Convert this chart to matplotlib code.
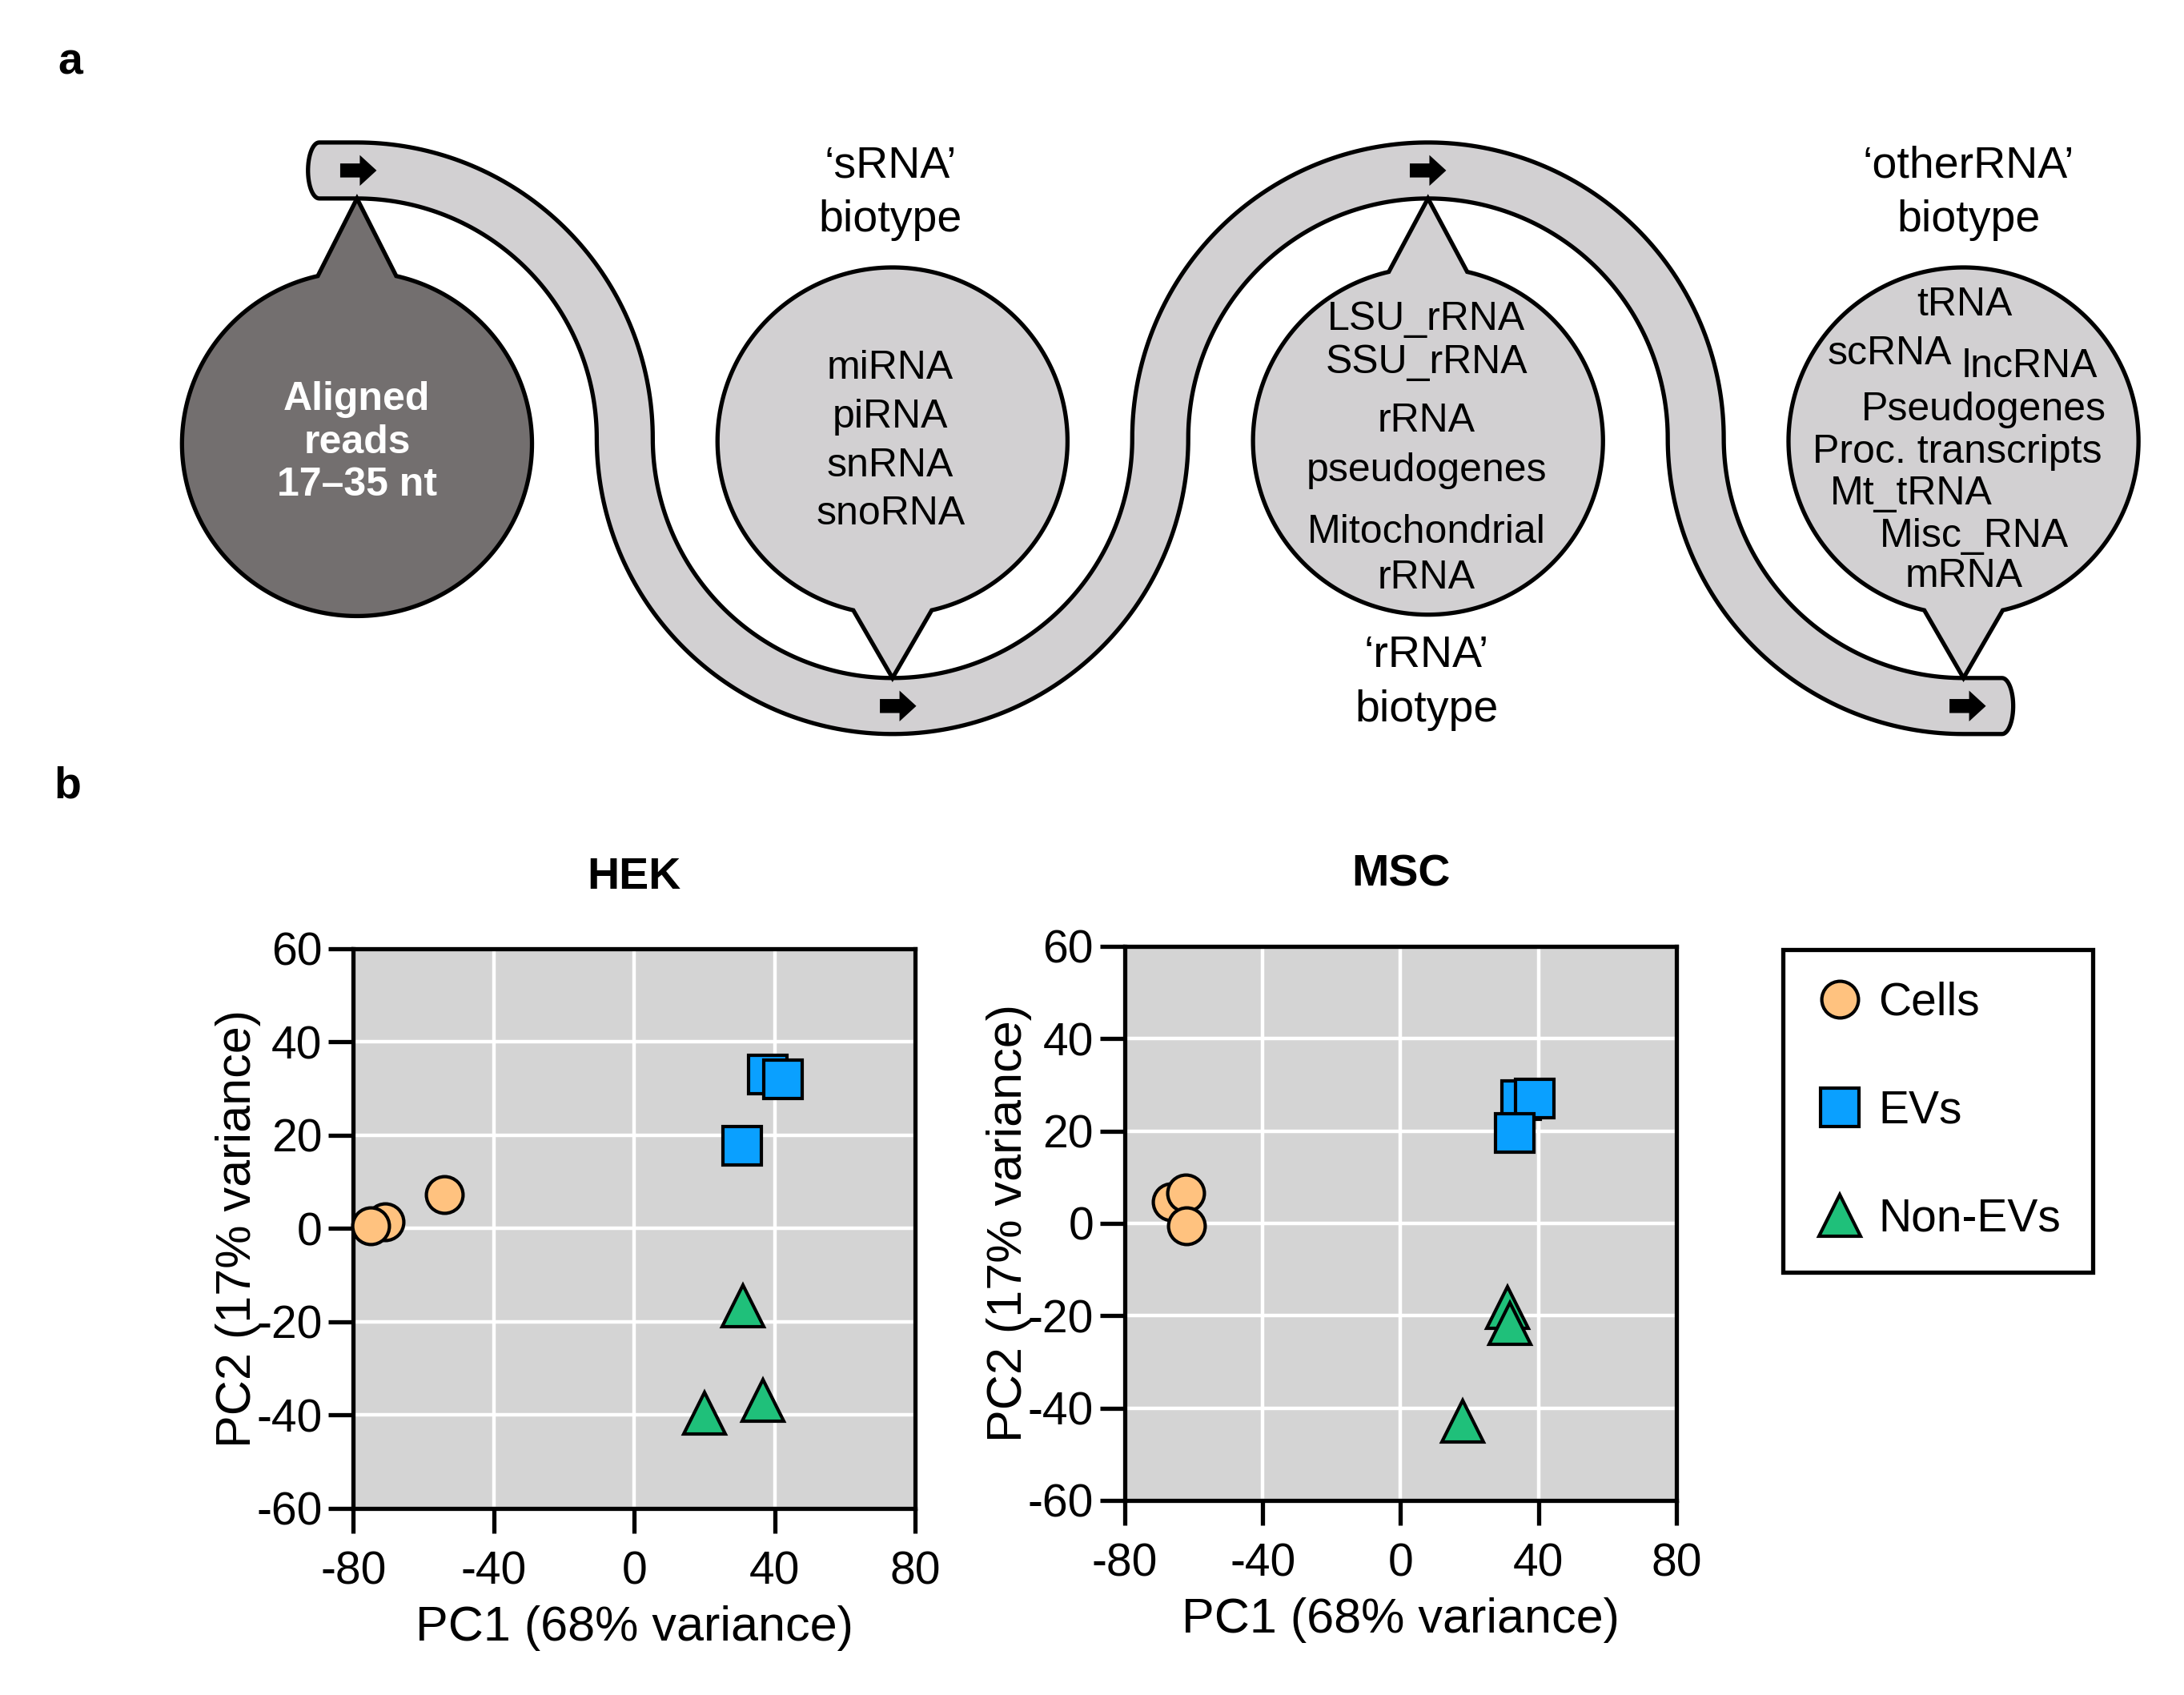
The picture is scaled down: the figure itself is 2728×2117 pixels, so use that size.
import numpy as np
import matplotlib
matplotlib.use('Agg')
import matplotlib.pyplot as plt
import matplotlib.patches as mpatches
from matplotlib.lines import Line2D

plt.rcParams['font.family'] = ['Liberation Sans', 'DejaVu Sans']
plt.rcParams['axes.unicode_minus'] = False

# ---- panel b data ----
groups = ['Cells', 'EVs', 'Non-EVs']
colors = ['#FFC27F', '#0AA0FF', '#1FC07A']
markers = ['o', 's', '^']
msizes = [16.5, 17.3, 18.5]

hek_cells_x = [-71, -75, -54]
hek_cells_y = [1.5, 0.5, 7.3]
hek_evs_x = [38, 42.4, 30.8]
hek_evs_y = [33, 32, 17.7]
hek_non_x = [31, 36.6, 20]
hek_non_y = [-16.6, -36.9, -39.6]

msc_cells_x = [-66.5, -62.3, -62]
msc_cells_y = [4.6, 6.5, -0.6]
msc_evs_x = [35, 39, 33]
msc_evs_y = [26.7, 27.1, 19.5]
msc_non_x = [31, 31.8, 18]
msc_non_y = [-18.3, -21.6, -42.8]

xticks = [-80, -40, 0, 40, 80]
yticks = [-60, -40, -20, 0, 20, 40, 60]

# ---- panel a texts ----
sRNA_items = ['miRNA', 'piRNA', 'snRNA', 'snoRNA']
rRNA_items = ['LSU_rRNA', 'SSU_rRNA', 'rRNA', 'pseudogenes', 'Mitochondrial', 'rRNA']
other_items = ['tRNA', 'scRNA', 'lncRNA', 'Pseudogenes', 'Proc. transcripts',
               'Mt_tRNA', 'Misc_RNA', 'mRNA']

fig = plt.figure(figsize=(13.64, 10.585), dpi=200)

# diagram axes in "display units" covering the whole figure
W = 1560.0
H = W * 2117 / 2728
ax_a = fig.add_axes([0, 0, 1, 1])
ax_a.set_xlim(0, W)
ax_a.set_ylim(H, 0)
ax_a.axis('off')

centers = [255.0, 637.5, 1020.0, 1402.5]
r = (centers[1] - centers[0]) / 2
cy = 313.0
hw = 20.0

# centre line of the tube
segs = []
segs.append(np.column_stack([np.linspace(228, centers[0], 10), np.full(10, cy - r)]))
t = np.linspace(0, np.pi / 2, 80)
segs.append(np.column_stack([centers[0] + r * np.sin(t), cy - r * np.cos(t)]))
t = np.linspace(0, np.pi, 160)
segs.append(np.column_stack([centers[1] - r * np.cos(t), cy + r * np.sin(t)]))
segs.append(np.column_stack([centers[2] - r * np.cos(t), cy - r * np.sin(t)]))
t = np.linspace(0, np.pi / 2, 80)
segs.append(np.column_stack([centers[3] - r * np.cos(t), cy + r * np.sin(t)]))
segs.append(np.column_stack([np.linspace(centers[3], 1430, 10), np.full(10, cy + r)]))
line = segs[0]
for s in segs[1:]:
    line = np.vstack([line, s[1:]])

tang = np.gradient(line, axis=0)
tang = tang / np.linalg.norm(tang, axis=1)[:, None]
norm = np.column_stack([-tang[:, 1], tang[:, 0]])
left = line + norm * hw
right = line - norm * hw
b = 8.0
phi = np.linspace(np.pi / 2, -np.pi / 2, 30)
end_cap = line[-1] + norm[-1] * hw * np.sin(phi)[:, None] + tang[-1] * b * np.cos(phi)[:, None]
phi = np.linspace(-np.pi / 2, np.pi / 2, 30)
start_cap = line[0] + norm[0] * hw * np.sin(phi)[:, None] - tang[0] * b * np.cos(phi)[:, None]
tube = np.vstack([left, end_cap, right[::-1], start_cap])
ax_a.add_patch(mpatches.Polygon(tube, closed=True, fc='#D2D0D2', ec='black', lw=1.9,
                                joinstyle='round'))


def balloon(ax, cx, cyb, rx, ry, tip_y, up, fc):
    d = np.arcsin(28 / rx)
    a0 = -np.pi / 2 if up else np.pi / 2
    a = np.linspace(a0 + d, a0 + 2 * np.pi - d, 240)
    pts = np.column_stack([cx + rx * np.cos(a), cyb + ry * np.sin(a)])
    pts = np.vstack([pts, [cx, tip_y]])
    ax.add_patch(mpatches.Polygon(pts, closed=True, fc=fc, ec='black', lw=1.9,
                                  joinstyle='miter'))


balloon(ax_a, centers[0], 317, 125, 123, cy - r + hw, True, '#736F6F')
balloon(ax_a, centers[1], 315, 125, 124, cy + r - hw, False, '#D2D0D2')
balloon(ax_a, centers[2], 315, 125, 124, cy - r + hw, True, '#D2D0D2')
balloon(ax_a, centers[3], 315, 125, 124, cy + r - hw, False, '#D2D0D2')

# direction arrows inside the tube
arrow_pos = [(centers[0] + 1, cy - r), (centers[1] + 4, cy + r),
             (centers[2], cy - r), (centers[3] + 3, cy + r)]
for ax_x, ax_y in arrow_pos:
    ax_a.add_patch(mpatches.FancyArrow(ax_x - 13, ax_y, 26, 0, width=10, head_width=22,
                                       head_length=12, length_includes_head=True,
                                       fc='black', ec='black', lw=0))

# texts
fs_in = 18
ax_a.text(centers[0], 316, 'Aligned\nreads\n17\u201335 nt', color='white', fontsize=fs_in,
          fontweight='bold', ha='center', va='center', linespacing=1.2)
for txt, y in zip(sRNA_items, [263, 298, 333, 367]):
    ax_a.text(636, y, txt, fontsize=fs_in, ha='center', va='center')
for txt, y in zip(rRNA_items, [228, 259, 301, 336, 380, 413]):
    ax_a.text(1019, y, txt, fontsize=fs_in, ha='center', va='center')
other_pos = [(1403, 218), (1350, 253), (1450, 262), (1417, 293), (1398, 323),
             (1365, 353), (1410, 383), (1403, 412)]
for txt, (x, y) in zip(other_items, other_pos):
    ax_a.text(x, y, txt, fontsize=fs_in, ha='center', va='center')

fs_bio = 20
ax_a.text(636, 138, '\u2018sRNA\u2019\nbiotype', fontsize=fs_bio, ha='center', va='center',
          linespacing=1.4)
ax_a.text(1019, 488, '\u2018rRNA\u2019\nbiotype', fontsize=fs_bio, ha='center', va='center',
          linespacing=1.4)
ax_a.text(1406, 138, '\u2018otherRNA\u2019\nbiotype', fontsize=fs_bio, ha='center', va='center',
          linespacing=1.4)

ax_a.text(50, 45, 'a', fontsize=20, fontweight='bold', ha='center', va='center')
ax_a.text(48, 562, 'b', fontsize=20, fontweight='bold', ha='center', va='center')


# ---- panel b ----
def pca_panel(ax, title, xs, ys):
    ax.set_facecolor('#D4D4D4')
    for x, y, c, m, s in zip(xs, ys, colors, markers, msizes):
        ax.plot(x, y, ls='none', marker=m, ms=s, mfc=c, mec='black', mew=1.5,
                clip_on=False, zorder=3)
    ax.set_xlim(-80, 80)
    ax.set_ylim(-60, 60)
    ax.set_xticks(xticks)
    ax.set_yticks(yticks)
    ax.grid(True, color='white', lw=1.6)
    ax.set_axisbelow(True)
    for sp in ax.spines.values():
        sp.set_linewidth(1.9)
        sp.set_color('black')
    ax.tick_params(direction='out', length=11, width=1.9, labelsize=20.5)
    ax.tick_params(axis='x', pad=8)
    ax.tick_params(axis='y', pad=3)
    ax.set_xlabel('PC1 (68% variance)', fontsize=22, labelpad=5)
    ax.set_ylabel('PC2 (17% variance)', fontsize=22, labelpad=-2)
    ax.set_title(title, fontsize=20, fontweight='bold', pad=27)


ax_hek = fig.add_axes([0.1618, 0.1101, 0.2572, 0.3302])
pca_panel(ax_hek, 'HEK', [hek_cells_x, hek_evs_x, hek_non_x],
          [hek_cells_y, hek_evs_y, hek_non_y])
ax_msc = fig.add_axes([0.5150, 0.1148, 0.2526, 0.3269])
pca_panel(ax_msc, 'MSC', [msc_cells_x, msc_evs_x, msc_non_x],
          [msc_cells_y, msc_evs_y, msc_non_y])

handles = [Line2D([], [], ls='none', marker=m, ms=s, mfc=c, mec='black', mew=1.5)
           for c, m, s in zip(colors, markers, msizes)]
leg = fig.legend(handles, groups, loc='upper left', bbox_to_anchor=(2227 / 2728, 1 - 1186 / 2117),
                 frameon=True, fancybox=False, edgecolor='black', framealpha=1, fontsize=20.5,
                 borderpad=0.7, labelspacing=1.42, handletextpad=0.3, handlelength=1.1,
                 borderaxespad=0)
leg.get_frame().set_linewidth(1.9)

fig.savefig('out.png', dpi=200)
